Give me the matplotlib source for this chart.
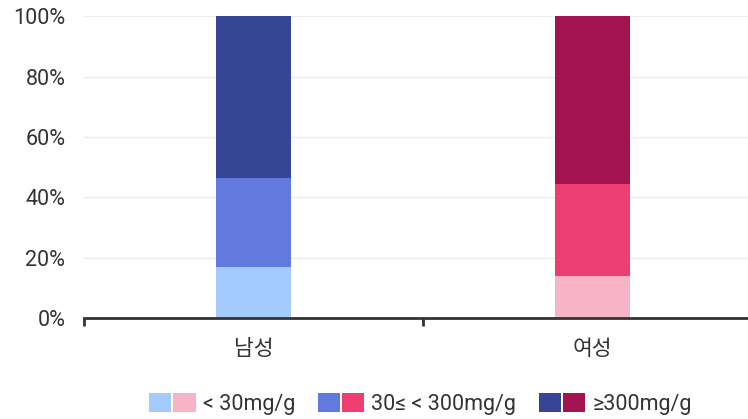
import matplotlib
matplotlib.use("Agg")
import matplotlib.pyplot as plt
from matplotlib.patches import Patch
from matplotlib.legend_handler import HandlerTuple

plt.rcParams['font.family'] = ['Roboto', 'Noto Sans CJK KR', 'DejaVu Sans']

categories = ['남성', '여성']
series_labels = ['< 30mg/g', '30≤ < 300mg/g', '≥300mg/g']
low = [16.9, 14.0]
mid = [29.7, 30.6]
high = [53.4, 55.4]
y_ticks = [0, 20, 40, 60, 80, 100]
y_tick_labels = ['0%', '20%', '40%', '60%', '80%', '100%']

male_colors = ['#a3cbfd', '#627add', '#374596']
female_colors = ['#f7b4c6', '#ec3e70', '#a31350']

FS = 15.5

fig = plt.figure(figsize=(7.48, 4.19), dpi=100)
ax = fig.add_axes([0.1123, 0.2399, 0.9064, 0.7219])

x = list(range(len(categories)))
width = 0.221
bottoms = [0.0] * len(categories)
for i, vals in enumerate([low, mid, high]):
    cols = [male_colors[i], female_colors[i]]
    ax.bar(x, vals, width=width, bottom=bottoms, color=cols, linewidth=0, zorder=2)
    bottoms = [b + v for b, v in zip(bottoms, vals)]

ax.set_xlim(-0.5, 1.5)
ax.set_ylim(0, 100)
ax.set_yticks(y_ticks)
ax.set_yticklabels(y_tick_labels, fontsize=FS, color='#333333')
ax.set_xticks([-0.5, 0.5, 1.5], minor=False)
ax.set_xticklabels(['', '', ''])
ax.set_xticks(x, minor=True)
ax.set_xticklabels(categories, minor=True, fontsize=FS, color='#333333')

ax.tick_params(axis='y', length=0, pad=13.5)
ax.tick_params(axis='x', which='major', length=6, width=2, color='#333333', direction='out')
ax.tick_params(axis='x', which='minor', length=0, pad=15)

ax.grid(axis='y', color='#ececec', linewidth=1, zorder=0)
ax.set_axisbelow(True)
for s in ['top', 'right', 'left']:
    ax.spines[s].set_visible(False)
ax.spines['bottom'].set_color('#333333')
ax.spines['bottom'].set_linewidth(2)
ax.spines['bottom'].set_zorder(3)

handles = [(Patch(color=male_colors[i], linewidth=0), Patch(color=female_colors[i], linewidth=0))
           for i in range(3)]
leg = fig.legend(handles, series_labels, ncol=3, loc='center',
                 bbox_to_anchor=(420.5 / 748, 1 - 404 / 419),
                 handler_map={tuple: HandlerTuple(ndivide=None, pad=0.093)},
                 handlelength=2.14, handleheight=1.02, handletextpad=0.33,
                 columnspacing=1.07, frameon=False, fontsize=FS, borderpad=0)
for t in leg.get_texts():
    t.set_color('#333333')

fig.savefig('out.png', dpi=100)
